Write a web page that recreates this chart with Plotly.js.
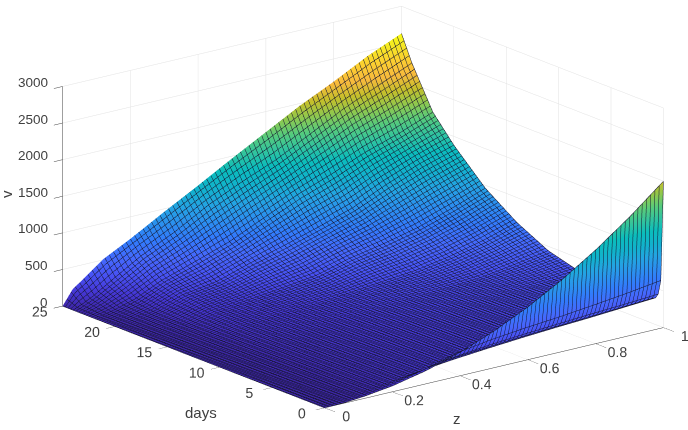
<!DOCTYPE html>
<html><head><meta charset="utf-8">
<script src="https://cdn.plot.ly/plotly-3.0.1.min.js"></script>
<style>html,body{margin:0;padding:0;background:#fff}#g{width:688px;height:430px}</style>
</head><body><div id="g"></div>
<script>
const zGrid=[0,.03,.06,.12,.2,.3,.4,.5,.6,.7,.8,.9,1];
const dayGrid=[0,.25,.5,.75,1.5,3,5,8,11,14,17,20,22,24,25];
const zTicks=[0,.2,.4,.6,.8,1];
const dayTicks=[0,5,10,15,20,25];
const vTicks=[0,500,1000,1500,2000,2500,3000];
const v00=[0,2,7,30,80,180,320,500,720,980,1280,1620,2000];
const v01=[0,2,7,30,80,175,300,370,420,460,510,565,630];
const v02=[0,3,8,30,75,150,230,280,315,345,375,400,430];
const v03=[0,3,9,28,70,125,175,215,250,280,305,335,365];
const v04=[0,3,9,30,72,120,160,190,220,245,270,290,310];
const v05=[0,3,9,32,75,120,155,185,210,235,255,272,290];
const v06=[0,3,10,34,78,120,155,185,210,230,250,270,290];
const v07=[0,4,12,38,85,125,160,190,215,240,260,285,320];
const v08=[0,5,15,44,95,135,170,205,235,260,290,360,440];
const v09=[0,7,19,52,115,160,195,235,285,330,410,520,660];
const v10=[0,9,24,65,150,200,255,315,440,530,640,790,960];
const v11=[0,12,32,90,215,285,430,560,700,850,1060,1240,1380];
const v12=[0,20,50,130,300,450,610,820,1030,1200,1390,1540,1720];
const v13=[0,60,130,300,520,740,1000,1210,1400,1640,1880,2080,2280];
const v14=[0,200,300,510,700,960,1210,1470,1720,1970,2190,2430,2630];
const rows=[v00,v01,v02,v03,v04,v05,v06,v07,v08,v09,v10,v11,v12,v13,v14];
const parula=[[0,'rgb(62,38,168)'],[.063,'rgb(69,55,213)'],[.127,'rgb(72,82,244)'],[.19,'rgb(69,105,253)'],[.254,'rgb(50,124,252)'],[.317,'rgb(43,145,239)'],[.381,'rgb(35,165,226)'],[.444,'rgb(18,178,205)'],[.508,'rgb(11,189,189)'],[.571,'rgb(49,196,159)'],[.635,'rgb(87,203,124)'],[.698,'rgb(143,200,78)'],[.762,'rgb(197,191,43)'],[.825,'rgb(248,186,61)'],[.889,'rgb(252,208,48)'],[.952,'rgb(245,233,36)'],[1,'rgb(249,251,21)']];
const textFont={family:'Liberation Sans',size:13,color:'#404040'};
const ax=(tv,len)=>({title:{text:''},tickvals:tv,ticktext:tv.map(String),tickmode:'array',tickangle:0,
 tickfont:textFont,ticks:'outside',ticklen:len,tickcolor:'#404040',showline:true,linecolor:'#404040',linewidth:1,
 showgrid:true,gridcolor:'#e2e2e2',gridwidth:1,zeroline:false,showbackground:false,showspikes:false});
const trace={type:'surface',x:zGrid,y:dayGrid,z:rows,colorscale:parula,cmin:0,cmax:2630,showscale:false,hoverinfo:'skip',
 lighting:{ambient:1,diffuse:0,specular:0,roughness:1,fresnel:0},
 contours:{x:{show:true,start:0,end:1.001,size:.0125,color:'#15152e',width:1,highlight:false},
           y:{show:true,start:0,end:25.01,size:.25,color:'#15152e',width:1,highlight:false},
           z:{show:false,highlight:false}}};
const R=4, c={x:-.076,y:.046,z:-.0355};
const axisTitle=(t,x,y,a)=>({text:t,xref:'paper',yref:'paper',x:x/688,y:1-y/430,showarrow:false,xanchor:'center',yanchor:'middle',textangle:a||0,font:{family:'Liberation Sans',size:15,color:'#404040'}});
const vLabel=v=>({x:0,y:25,z:v,text:String(v),showarrow:false,xanchor:'right',yanchor:'middle',xshift:-13,yshift:4,font:{family:'Liberation Sans',size:13.5,color:'#404040'}});
const layout={width:688,height:430,margin:{l:0,r:0,t:0,b:0},paper_bgcolor:'#fff',showlegend:false,
 annotations:[axisTitle('days',201,412),axisTitle('z',457,418),axisTitle('v',6,194,-90)],
 scene:{domain:{x:[0,1],y:[0,1]},aspectmode:'manual',aspectratio:{x:2,y:1.98,z:1.072},
  camera:{projection:{type:'orthographic'},up:{x:0,y:0,z:1},center:c,eye:{x:-.588*R+c.x,y:-.753*R+c.y,z:.304*R+c.z}},
  xaxis:ax(zTicks,11),yaxis:ax(dayTicks,17),zaxis:{...ax(vTicks,6),showticklabels:false},
  annotations:vTicks.map(vLabel)}};
layout.scene.xaxis.range=[0,1];layout.scene.yaxis.range=[0,25];layout.scene.zaxis.range=[0,3000];
Plotly.newPlot('g',[trace],layout,{displayModeBar:false,staticPlot:false});
</script></body></html>
